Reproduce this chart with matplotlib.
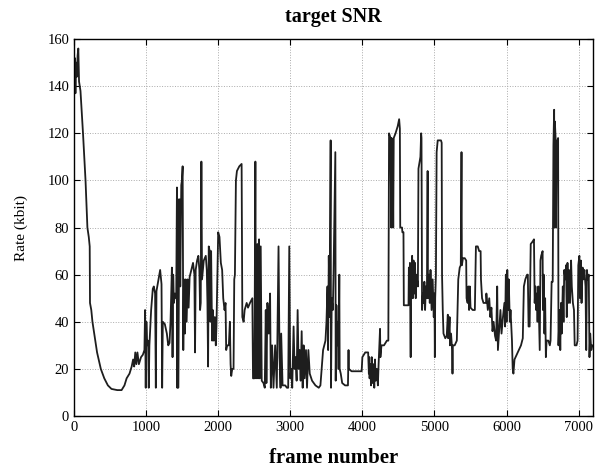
import matplotlib
matplotlib.use('Agg')
import matplotlib.pyplot as plt

# Encoder output rate per frame (kbit), traced as breakpoints of the rate curve
frames_a = [0, 10, 20, 30, 40, 50, 60, 70, 90, 125, 160, 186, 205, 214, 218, 222, 240, 256,
            290, 320, 372, 420, 470, 520, 600, 660, 700, 730, 770, 800, 820, 835, 850, 865, 880,
            900, 930, 955, 977]
rate_a = [140, 152, 137, 150, 144, 153, 156, 142, 138, 120, 100, 80, 76, 73, 72, 48, 45, 40,
          33, 27, 20, 16, 13, 11.5, 11, 11, 13, 16, 18, 21, 24, 21, 27, 22, 27,
          22, 25, 26, 28]

frames_b = [986, 995, 1004, 1014, 1028, 1037, 1046, 1070, 1093, 1107, 1125, 1135, 1144, 1167, 1195,
            1214, 1223, 1232, 1260, 1288, 1307, 1325, 1339, 1358, 1367, 1376, 1386, 1400, 1418,
            1428, 1432, 1442, 1446, 1455, 1465, 1474, 1488, 1497, 1507, 1516, 1525, 1539, 1549,
            1562, 1577, 1590, 1604, 1628, 1651, 1670, 1679, 1688, 1707, 1725, 1739, 1749, 1758,
            1767, 1776, 1800, 1828, 1842, 1851, 1860, 1869, 1883, 1893, 1902, 1916, 1925, 1939,
            1953, 1967, 1976, 1990]
rate_b = [45, 12, 40, 30, 32, 12, 30, 45, 54, 55, 52, 12, 53, 57, 62,
          56, 12, 40, 39, 35, 30, 31, 40, 63, 25, 60, 48, 52, 50,
          97, 12, 92, 12, 55, 92, 55, 98, 100, 106, 28, 58, 35, 58,
          40, 58, 46, 59, 62, 65, 60, 27, 62, 66, 68, 62, 45, 48,
          108, 58, 66, 68, 62, 48, 21, 72, 70, 40, 70, 32, 45, 32,
          42, 30, 38, 60]

frames_c = [2000, 2018, 2037, 2055, 2070, 2088, 2102, 2111, 2125, 2148, 2162, 2172, 2181, 2195, 2213,
            2223, 2232, 2246, 2260, 2293, 2325, 2335, 2353, 2367, 2395, 2414, 2441, 2474, 2483,
            2502, 2516, 2525, 2544, 2553, 2567, 2576, 2590, 2604, 2628, 2646, 2660, 2669, 2683,
            2702, 2720, 2730, 2748, 2767, 2790, 2813, 2837, 2851, 2865, 2874, 2893, 2911, 2930,
            2953, 2971, 2986, 3000, 3013, 3027, 3046, 3060, 3074, 3088, 3102, 3116, 3130, 3144,
            3158, 3172, 3185, 3199, 3218, 3232, 3251, 3270, 3302, 3349, 3395, 3418, 3455, 3488]
rate_c = [78, 76, 65, 62, 50, 45, 48, 28, 30, 30, 40, 22, 17, 20, 20,
          58, 60, 100, 104, 106, 107, 42, 40, 45, 48, 46, 48, 50, 16,
          16, 108, 16, 73, 16, 75, 16, 72, 15, 14, 12, 45, 14, 48,
          35, 52, 12, 30, 12, 30, 12, 72, 25, 12, 35, 13, 13, 13,
          12, 12, 72, 16, 20, 12, 38, 20, 25, 15, 45, 20, 28, 15,
          36, 12, 30, 16, 28, 12, 28, 18, 15, 13, 12, 13, 28, 32]

frames_d = [3502, 3516, 3525, 3534, 3545, 3560, 3565, 3575, 3590, 3600, 3625, 3630, 3640, 3650,
            3660, 3670, 3680, 3685, 3700, 3720, 3760, 3800, 3808, 3812, 3850, 3950, 3990, 4000,
            4040, 4080, 4090, 4095, 4100, 4110, 4120, 4130, 4140, 4155, 4165, 4175, 4185, 4200,
            4215, 4225, 4245, 4250, 4265, 4300, 4340, 4360]
rate_d = [40, 55, 28, 68, 42, 117, 12, 50, 45, 60, 112, 15, 47, 30,
          40, 20, 60, 20, 18, 14, 13, 13, 28, 20, 19, 19, 19, 25,
          27, 27, 18, 25, 16, 22, 13, 25, 14, 22, 12, 24, 15, 20,
          13, 22, 37, 25, 30, 30, 32, 32]

frames_e = [4370, 4390, 4400, 4405, 4420, 4428, 4435, 4460, 4490, 4510, 4520, 4525, 4550, 4555,
            4570, 4575, 4600, 4640, 4645, 4650, 4660, 4670, 4675, 4685, 4690, 4700, 4710, 4720,
            4730, 4740, 4750, 4770, 4778, 4795, 4805, 4815, 4820, 4828, 4840, 4850, 4860, 4870,
            4880, 4895, 4905, 4910, 4925, 4935, 4945, 4960, 4975, 4990, 5000, 5005, 5010, 5020,
            5030, 5045, 5070, 5090, 5100, 5105, 5115, 5125, 5150, 5170]
rate_e = [120, 118, 80, 118, 116, 80, 118, 120, 123, 126, 122, 80, 80, 78,
          78, 47, 47, 47, 63, 55, 65, 25, 62, 52, 68, 50, 66, 52,
          65, 50, 60, 55, 105, 108, 110, 120, 118, 45, 52, 48, 57, 45,
          55, 50, 104, 50, 60, 48, 62, 45, 58, 42, 52, 25, 50, 60,
          112, 117, 117, 117, 116, 60, 45, 35, 33, 34]

frames_f = [5185, 5190, 5200, 5210, 5215, 5230, 5245, 5250, 5255, 5280, 5310, 5330, 5350, 5365,
            5375, 5380, 5395, 5420, 5440, 5445, 5460, 5470, 5480, 5490, 5500, 5530, 5560, 5575,
            5600, 5620, 5640, 5645, 5660, 5680, 5700, 5715, 5720, 5740, 5760, 5775, 5790, 5805,
            5820, 5840, 5855, 5870, 5880, 5900, 5915, 5930, 5950, 5970, 5980, 5990, 6000, 6010,
            6020, 6030, 6045, 6055, 6075, 6085, 6095, 6110, 6140, 6170, 6200, 6225]
rate_f = [43, 33, 35, 42, 30, 35, 28, 18, 30, 30, 32, 58, 63, 64,
          112, 64, 67, 67, 66, 50, 48, 55, 45, 55, 46, 45, 45, 72,
          72, 70, 70, 58, 50, 48, 48, 48, 52, 45, 50, 42, 46, 36,
          40, 34, 32, 55, 28, 38, 45, 35, 42, 48, 38, 60, 40, 62,
          45, 58, 40, 45, 32, 20, 18, 24, 26, 28, 30, 33]

frames_g = [6240, 6260, 6285, 6295, 6305, 6320, 6335, 6360, 6380, 6390, 6400, 6410, 6420, 6430,
            6440, 6450, 6460, 6470, 6480, 6500, 6505, 6515, 6525, 6535, 6545, 6555, 6580, 6600,
            6610, 6625, 6640, 6650, 6660, 6665, 6670, 6680, 6685, 6695, 6715, 6720, 6735, 6745,
            6755, 6765, 6780, 6790, 6800, 6815, 6825, 6835, 6845, 6855, 6865, 6880, 6895, 6905,
            6920, 6935, 6945, 6970, 6985, 6995, 7010, 7020, 7030, 7040, 7055, 7065, 7080, 7095,
            7105, 7115, 7125, 7140, 7150, 7160, 7175, 7190]
rate_g = [55, 58, 60, 60, 38, 38, 73, 74, 75, 48, 55, 45, 52, 40,
          55, 42, 28, 66, 68, 70, 45, 60, 35, 50, 25, 32, 32, 30,
          32, 57, 57, 115, 130, 80, 125, 118, 80, 116, 118, 30, 45, 28,
          48, 35, 55, 40, 62, 58, 64, 42, 65, 48, 62, 48, 66, 55,
          48, 45, 30, 30, 32, 64, 68, 50, 66, 48, 63, 58, 62, 55,
          28, 62, 58, 60, 25, 35, 28, 30]

frames = frames_a + frames_b + frames_c + frames_d + frames_e + frames_f + frames_g
rate = rate_a + rate_b + rate_c + rate_d + rate_e + rate_f + rate_g

x_ticks = [0, 1000, 2000, 3000, 4000, 5000, 6000, 7000]
y_ticks = [0, 20, 40, 60, 80, 100, 120, 140, 160]

plt.rcParams['font.family'] = ['Liberation Serif', 'DejaVu Serif']

fig = plt.figure(figsize=(6.05, 4.72), dpi=100)
ax = fig.add_axes([0.1223, 0.1186, 0.858, 0.7986])

ax.plot(frames, rate, color='#1e1e1e', linewidth=1.3)

ax.set_xlim(0, 7200)
ax.set_ylim(0, 160)
ax.set_xticks(x_ticks)
ax.set_yticks(y_ticks)
ax.tick_params(direction='in', top=True, right=True, labelsize=10.5, length=4)
ax.grid(True, linestyle=':', color='#aaaaaa', linewidth=0.7)

ax.set_title('target SNR', fontsize=14.5, fontweight='bold', pad=12)
ax.set_xlabel('frame number', fontsize=15, fontweight='bold', labelpad=10)
ax.set_ylabel('Rate (kbit)', fontsize=11, labelpad=14)

for spine in ax.spines.values():
    spine.set_linewidth(1.0)

fig.savefig('out.png', dpi=100)
